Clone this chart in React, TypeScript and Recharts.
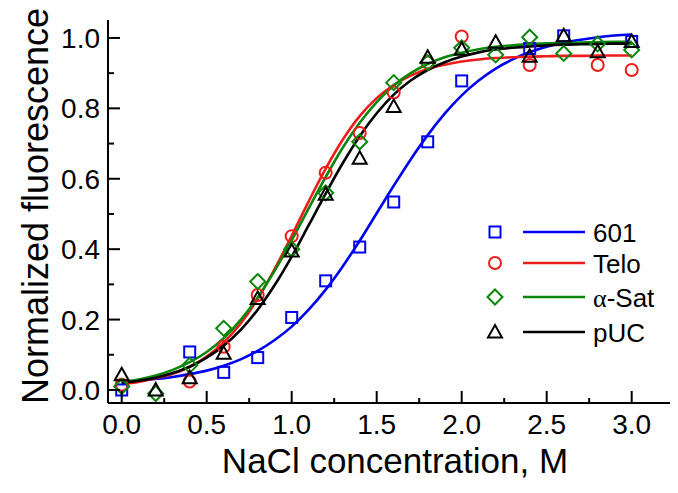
import { ComposedChart, Line, Scatter, XAxis, YAxis } from 'recharts';

const CONC = [0, 0.2, 0.4, 0.6, 0.8, 1.0, 1.2, 1.4, 1.6, 1.8, 2.0, 2.2, 2.4, 2.6, 2.8, 3.0];
const FL_601 = [0.0, null, 0.108, 0.05, 0.092, 0.206, 0.31, 0.406, 0.534, 0.705, 0.878, null, 0.97, 1.006, null, 0.99];
const FL_TELO = [0.015, null, 0.024, 0.123, 0.27, 0.437, 0.617, 0.73, 0.845, 0.93, 1.004, null, 0.923, null, 0.923, 0.909];
const FL_SAT = [0.01, -0.01, 0.07, 0.175, 0.308, 0.4, 0.56, 0.705, 0.873, 0.93, 0.972, 0.952, 1.002, 0.956, 0.983, 0.966];
const FL_PUC = [0.043, 0.0, 0.035, 0.104, 0.26, 0.395, 0.556, 0.658, 0.805, 0.945, 0.968, 0.988, 0.948, 1.006, 0.961, 0.99];

// fitted curves, every 0.1 M
const FIT_X = [0, 0.1, 0.2, 0.3, 0.4, 0.5, 0.6, 0.7, 0.8, 0.9, 1.0, 1.1, 1.2, 1.3, 1.4, 1.5, 1.6, 1.7, 1.8, 1.9, 2.0, 2.1, 2.2, 2.3, 2.4, 2.5, 2.6, 2.7, 2.8, 2.9, 3.0];
const FIT_601 = [0.024, 0.027, 0.031, 0.037, 0.045, 0.055, 0.069, 0.087, 0.111, 0.142, 0.18, 0.228, 0.285, 0.351, 0.424, 0.502, 0.58, 0.655, 0.724, 0.785, 0.837, 0.879, 0.913, 0.939, 0.96, 0.975, 0.987, 0.995, 1.002, 1.007, 1.01];
const FIT_TELO = [0.017, 0.023, 0.033, 0.046, 0.066, 0.095, 0.135, 0.189, 0.259, 0.344, 0.438, 0.536, 0.629, 0.711, 0.778, 0.829, 0.866, 0.893, 0.912, 0.924, 0.933, 0.939, 0.943, 0.945, 0.947, 0.948, 0.949, 0.949, 0.95, 0.95, 0.95];
const FIT_SAT = [0.023, 0.03, 0.041, 0.057, 0.079, 0.108, 0.147, 0.199, 0.263, 0.339, 0.425, 0.516, 0.605, 0.688, 0.759, 0.818, 0.865, 0.9, 0.926, 0.945, 0.958, 0.968, 0.975, 0.979, 0.983, 0.985, 0.986, 0.987, 0.988, 0.989, 0.989];
const FIT_PUC = [0.02, 0.026, 0.035, 0.048, 0.066, 0.092, 0.126, 0.171, 0.228, 0.298, 0.379, 0.468, 0.558, 0.644, 0.721, 0.786, 0.839, 0.879, 0.909, 0.931, 0.947, 0.959, 0.967, 0.972, 0.976, 0.979, 0.981, 0.982, 0.983, 0.984, 0.984];

const X_TICKS = [0, 0.25, 0.5, 0.75, 1.0, 1.25, 1.5, 1.75, 2.0, 2.25, 2.5, 2.75, 3.0, 3.25];
const Y_TICKS = [0, 0.1, 0.2, 0.3, 0.4, 0.5, 0.6, 0.7, 0.8, 0.9, 1.0];

const BLUE = '#0000f0';
const RED = '#ee1c1c';
const GREEN = '#0a870a';
const BLACK = '#000000';
const FONT = '"Liberation Sans", Arial, sans-serif';

const pts = (ys: (number | null)[]) =>
  CONC.map((x, i) => ({ x, y: ys[i] })).filter((p) => p.y !== null);
const fit = (ys: number[]) => FIT_X.map((x, i) => ({ x, y: ys[i] }));

type MarkProps = { cx: number; cy: number; color: string };

function SquareMark({ cx, cy, color }: MarkProps) {
  return <rect x={cx - 5.5} y={cy - 5.5} width={11} height={11} fill="none" stroke={color} strokeWidth={2} />;
}
function CircleMark({ cx, cy, color }: MarkProps) {
  return <circle cx={cx} cy={cy} r={6} fill="none" stroke={color} strokeWidth={2} />;
}
function DiamondMark({ cx, cy, color }: MarkProps) {
  return (
    <polygon
      points={`${cx},${cy - 7.5} ${cx + 7.5},${cy} ${cx},${cy + 7.5} ${cx - 7.5},${cy}`}
      fill="none"
      stroke={color}
      strokeWidth={2}
    />
  );
}
function TriangleMark({ cx, cy, color }: MarkProps) {
  return (
    <polygon
      points={`${cx},${cy - 7} ${cx + 7},${cy + 5.5} ${cx - 7},${cy + 5.5}`}
      fill="none"
      stroke={color}
      strokeWidth={2}
    />
  );
}

const isMajor = (v: number, step: number) => Math.abs(v / step - Math.round(v / step)) < 1e-6;

function XTick({ x, y, payload }: any) {
  const major = isMajor(payload.value, 0.5);
  return (
    <g>
      <line x1={x} y1={y} x2={x} y2={y - (major ? 12 : 5)} stroke="#000" strokeWidth={2} />
      {major && (
        <text x={x} y={y + 31} textAnchor="middle" fontSize={28} fontFamily={FONT} fill="#000">
          {payload.value.toFixed(1)}
        </text>
      )}
    </g>
  );
}

function YTick({ x, y, payload }: any) {
  const major = isMajor(payload.value, 0.2);
  return (
    <g>
      <line x1={x} y1={y} x2={x + (major ? 12 : 6)} y2={y} stroke="#000" strokeWidth={2} />
      {major && (
        <text x={x - 8} y={y + 10} textAnchor="end" fontSize={28} fontFamily={FONT} fill="#000">
          {payload.value.toFixed(1)}
        </text>
      )}
    </g>
  );
}

const LEGEND = [
  { name: '601', color: BLUE, Mark: SquareMark },
  { name: 'Telo', color: RED, Mark: CircleMark },
  { name: 'Sat', color: GREEN, Mark: DiamondMark },
  { name: 'pUC', color: BLACK, Mark: TriangleMark },
];
const LEGEND_Y = [224, 255, 289, 324];

export default function App() {
  return (
    <div style={{ width: 670, height: 485, overflow: 'hidden' }}>
      <ComposedChart width={700} height={485} margin={{ top: 12, right: 18, bottom: 0, left: 0 }}>
        <XAxis
          dataKey="x"
          type="number"
          domain={[-0.0806, 3.343]}
          allowDataOverflow
          ticks={X_TICKS}
          interval={0}
          height={90}
          tickSize={0}
          tickMargin={0}
          tickLine={false}
          axisLine={{ stroke: '#000', strokeWidth: 2 }}
          tick={<XTick />}
        />
        <XAxis
          xAxisId="top"
          orientation="top"
          type="number"
          domain={[-0.0806, 3.343]}
          height={0}
          tick={false}
          tickLine={false}
          axisLine={{ stroke: '#000', strokeWidth: 2 }}
        />
        <YAxis
          dataKey="y"
          type="number"
          domain={[-0.037, 1.051]}
          allowDataOverflow
          ticks={Y_TICKS}
          interval={0}
          width={100}
          tickSize={0}
          tickMargin={0}
          tickLine={false}
          axisLine={{ stroke: '#000', strokeWidth: 2 }}
          tick={<YTick />}
        />
        <Scatter data={pts(FL_601)} isAnimationActive={false} shape={(p: any) => <SquareMark cx={p.cx} cy={p.cy} color={BLUE} />} />
        <Scatter data={pts(FL_TELO)} isAnimationActive={false} shape={(p: any) => <CircleMark cx={p.cx} cy={p.cy} color={RED} />} />
        <Scatter data={pts(FL_SAT)} isAnimationActive={false} shape={(p: any) => <DiamondMark cx={p.cx} cy={p.cy} color={GREEN} />} />
        <Scatter data={pts(FL_PUC)} isAnimationActive={false} shape={(p: any) => <TriangleMark cx={p.cx} cy={p.cy} color={BLACK} />} />
        <Line data={fit(FIT_601)} dataKey="y" type="monotone" stroke={BLUE} strokeWidth={2.6} dot={false} isAnimationActive={false} />
        <Line data={fit(FIT_TELO)} dataKey="y" type="monotone" stroke={RED} strokeWidth={2.6} dot={false} isAnimationActive={false} />
        <Line data={fit(FIT_SAT)} dataKey="y" type="monotone" stroke={GREEN} strokeWidth={2.6} dot={false} isAnimationActive={false} />
        <Line data={fit(FIT_PUC)} dataKey="y" type="monotone" stroke={BLACK} strokeWidth={2.6} dot={false} isAnimationActive={false} />

        <g>
          {LEGEND.map(({ name, color, Mark }, i) => (
            <g key={name}>
              <Mark cx={487} cy={LEGEND_Y[i]} color={color} />
              <line x1={515} y1={LEGEND_Y[i]} x2={577} y2={LEGEND_Y[i]} stroke={color} strokeWidth={2.6} />
              <text x={585} y={LEGEND_Y[i] + 9.5} fontSize={26} fontFamily={FONT} fill="#000">
                {name === 'Sat' ? (
                  <>
                    <tspan fontFamily='"Liberation Serif", serif'>α</tspan>-Sat
                  </>
                ) : (
                  name
                )}
              </text>
            </g>
          ))}
        </g>
        <text x={387} y={465} textAnchor="middle" fontSize={35} fontFamily={FONT} fill="#000">
          NaCl concentration, M
        </text>
        <text
          x={0}
          y={0}
          transform="translate(40 198) rotate(-90)"
          textAnchor="middle"
          fontSize={36}
          fontFamily={FONT}
          fill="#000"
        >
          Normalized fluorescence
        </text>
      </ComposedChart>
    </div>
  );
}
